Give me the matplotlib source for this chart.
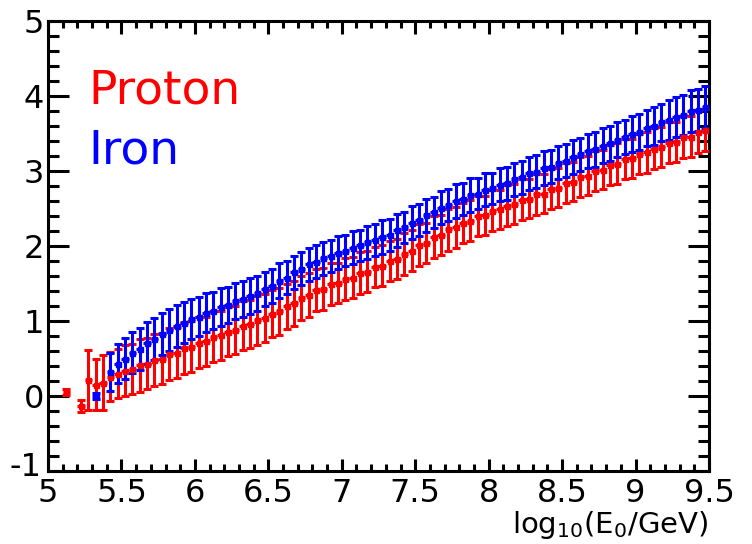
import matplotlib
matplotlib.use("Agg")
import matplotlib.pyplot as plt
from matplotlib.ticker import MultipleLocator
import matplotlib.transforms as mtransforms

plt.rcParams['font.family'] = ['DejaVu Sans']
plt.rcParams['mathtext.fontset'] = 'dejavusans'

# ---- data ----
# Proton: sparse low-energy points
p_low_x = [5.125, 5.225, 5.275, 5.325, 5.375, 5.425]
p_low_y = [0.05, -0.13, 0.22, 0.15, 0.18, 0.26]
p_low_e = [0.04, 0.08, 0.40, 0.34, 0.37, 0.33]

# Proton: main series, bin centres 5.475 ... 9.475 (step 0.05)
p_x = [5.475, 5.525, 5.575, 5.625, 5.675, 5.725, 5.775, 5.825, 5.875, 5.925,
       5.975, 6.025, 6.075, 6.125, 6.175, 6.225, 6.275, 6.325, 6.375, 6.425,
       6.475, 6.525, 6.575, 6.625, 6.675, 6.725, 6.775, 6.825, 6.875, 6.925,
       6.975, 7.025, 7.075, 7.125, 7.175, 7.225, 7.275, 7.325, 7.375, 7.425,
       7.475, 7.525, 7.575, 7.625, 7.675, 7.725, 7.775, 7.825, 7.875, 7.925,
       7.975, 8.025, 8.075, 8.125, 8.175, 8.225, 8.275, 8.325, 8.375, 8.425,
       8.475, 8.525, 8.575, 8.625, 8.675, 8.725, 8.775, 8.825, 8.875, 8.925,
       8.975, 9.025, 9.075, 9.125, 9.175, 9.225, 9.275, 9.325, 9.375, 9.425,
       9.475]
p_y = [0.30, 0.34, 0.36, 0.41, 0.43, 0.48, 0.50, 0.56, 0.58, 0.64,
       0.66, 0.71, 0.73, 0.79, 0.81, 0.86, 0.88, 0.94, 0.96, 1.01,
       1.04, 1.10, 1.13, 1.20, 1.24, 1.31, 1.35, 1.41, 1.43, 1.49,
       1.51, 1.56, 1.58, 1.64, 1.66, 1.72, 1.74, 1.80, 1.83, 1.90,
       1.94, 2.01, 2.04, 2.12, 2.15, 2.22, 2.25, 2.31, 2.34, 2.40,
       2.41, 2.47, 2.49, 2.54, 2.56, 2.62, 2.63, 2.69, 2.70, 2.76,
       2.78, 2.84, 2.86, 2.92, 2.94, 3.00, 3.02, 3.08, 3.10, 3.16,
       3.17, 3.23, 3.25, 3.30, 3.32, 3.38, 3.39, 3.45, 3.46, 3.52,
       3.55]
p_e = [0.33, 0.34, 0.33, 0.35, 0.34, 0.35, 0.34, 0.35, 0.34, 0.35,
       0.34, 0.34, 0.33, 0.34, 0.33, 0.33, 0.32, 0.33, 0.32, 0.33,
       0.32, 0.31, 0.31, 0.30, 0.30, 0.29, 0.29, 0.28, 0.28, 0.28,
       0.27, 0.28, 0.27, 0.28, 0.27, 0.27, 0.27, 0.27, 0.27, 0.28,
       0.27, 0.28, 0.27, 0.28, 0.27, 0.28, 0.27, 0.27, 0.27, 0.27,
       0.26, 0.27, 0.26, 0.27, 0.26, 0.27, 0.26, 0.27, 0.26, 0.27,
       0.26, 0.27, 0.26, 0.27, 0.26, 0.27, 0.26, 0.27, 0.27, 0.27,
       0.26, 0.27, 0.27, 0.27, 0.27, 0.27, 0.27, 0.28, 0.27, 0.28,
       0.28]

# Iron: sparse low-energy point
i_low_x = [5.325]
i_low_y = [0.00]
i_low_e = [0.04]

# Iron: main series, bin centres 5.425 ... 9.475
i_x = [5.425] + p_x
i_y = [0.32, 0.43, 0.50, 0.58, 0.63, 0.71, 0.76, 0.83, 0.88, 0.94,
       0.98, 1.03, 1.06, 1.11, 1.14, 1.19, 1.22, 1.27, 1.29, 1.34,
       1.37, 1.43, 1.47, 1.54, 1.58, 1.65, 1.70, 1.76, 1.79, 1.84,
       1.87, 1.91, 1.94, 1.98, 2.01, 2.05, 2.08, 2.12, 2.15, 2.21,
       2.25, 2.31, 2.35, 2.41, 2.45, 2.51, 2.55, 2.60, 2.63, 2.68,
       2.70, 2.75, 2.77, 2.82, 2.84, 2.89, 2.92, 2.97, 2.99, 3.04,
       3.06, 3.11, 3.14, 3.19, 3.22, 3.27, 3.29, 3.34, 3.37, 3.42,
       3.45, 3.49, 3.52, 3.57, 3.60, 3.65, 3.68, 3.72, 3.75, 3.80,
       3.82, 3.85]
i_e = [0.25, 0.26, 0.27, 0.27, 0.28, 0.28, 0.28, 0.28, 0.28, 0.28,
       0.27, 0.27, 0.26, 0.26, 0.25, 0.25, 0.24, 0.24, 0.24, 0.24,
       0.23, 0.23, 0.23, 0.23, 0.22, 0.22, 0.22, 0.22, 0.22, 0.22,
       0.21, 0.22, 0.21, 0.22, 0.21, 0.22, 0.21, 0.22, 0.21, 0.22,
       0.21, 0.22, 0.21, 0.22, 0.21, 0.22, 0.21, 0.22, 0.21, 0.22,
       0.21, 0.22, 0.21, 0.22, 0.22, 0.22, 0.22, 0.22, 0.22, 0.22,
       0.22, 0.22, 0.22, 0.23, 0.22, 0.23, 0.23, 0.23, 0.23, 0.23,
       0.23, 0.24, 0.24, 0.24, 0.25, 0.25, 0.26, 0.26, 0.27, 0.28,
       0.28, 0.28]

bin_half = 0.025
x_ticks = [5, 5.5, 6, 6.5, 7, 7.5, 8, 8.5, 9, 9.5]
x_ticklabels = ['5', '5.5', '6', '6.5', '7', '7.5', '8', '8.5', '9', '9.5']
y_ticks = [-1, 0, 1, 2, 3, 4, 5]

# ---- figure ----
W, H = 752, 544
fig = plt.figure(figsize=(W / 100, H / 100), dpi=100)
ax = fig.add_axes([48 / W, (H - 471) / H, (709 - 48) / W, (471 - 21) / H])

lw = 2.2
ms = 3.6
capsize = 2.9


def draw(xs, ys, es, color):
    ax.errorbar(xs, ys, xerr=bin_half, fmt='none', ecolor=color,
                elinewidth=lw, capsize=0, zorder=3)
    ax.errorbar(xs, ys, yerr=es, fmt='s', color=color, ms=ms, mec=color,
                mfc=color, elinewidth=lw, capsize=capsize, capthick=lw,
                zorder=3)


draw(p_low_x, p_low_y, p_low_e, '#ff0000')
draw(p_x, p_y, p_e, '#ff0000')
draw(i_low_x, i_low_y, i_low_e, '#0000ff')
draw(i_x, i_y, i_e, '#0000ff')

ax.set_xlim(5, 9.5)
ax.set_ylim(-1, 5)
ax.set_xticks(x_ticks)
ax.set_xticklabels(x_ticklabels)
ax.set_yticks(y_ticks)
ax.set_yticklabels([str(v) for v in y_ticks])
ax.xaxis.set_minor_locator(MultipleLocator(0.1))
ax.yaxis.set_minor_locator(MultipleLocator(0.2))

for s in ax.spines.values():
    s.set_linewidth(2.2)
ax.tick_params(axis='both', which='both', direction='in', top=True,
               right=True, width=2.2, colors='black')
ax.tick_params(axis='x', which='major', length=9, pad=5, labelsize=23)
ax.tick_params(axis='x', which='minor', length=5)
ax.tick_params(axis='y', which='major', length=15, pad=3, labelsize=23)
ax.tick_params(axis='y', which='minor', length=8)

# nudge the "-1" label up/left a little so it does not sit on the "5"
fig.canvas.draw()
ylabs = ax.get_yticklabels()
off = mtransforms.ScaledTranslation(-2 / 72, 5 / 72, fig.dpi_scale_trans)
ylabs[0].set_transform(ylabs[0].get_transform() + off)

fig.text(708 / W, (H - 533) / H, r'$\mathregular{log_{10}(E_0/GeV)}$',
         ha='right', va='baseline', fontsize=21)

ax.text(88 / W, (H - 103) / H, 'Proton', color='#ff0000', fontsize=34,
        transform=fig.transFigure, ha='left', va='baseline')
ax.text(88 / W, (H - 164) / H, 'Iron', color='#0000ff', fontsize=34,
        transform=fig.transFigure, ha='left', va='baseline')

fig.savefig('out.png', dpi=100)
